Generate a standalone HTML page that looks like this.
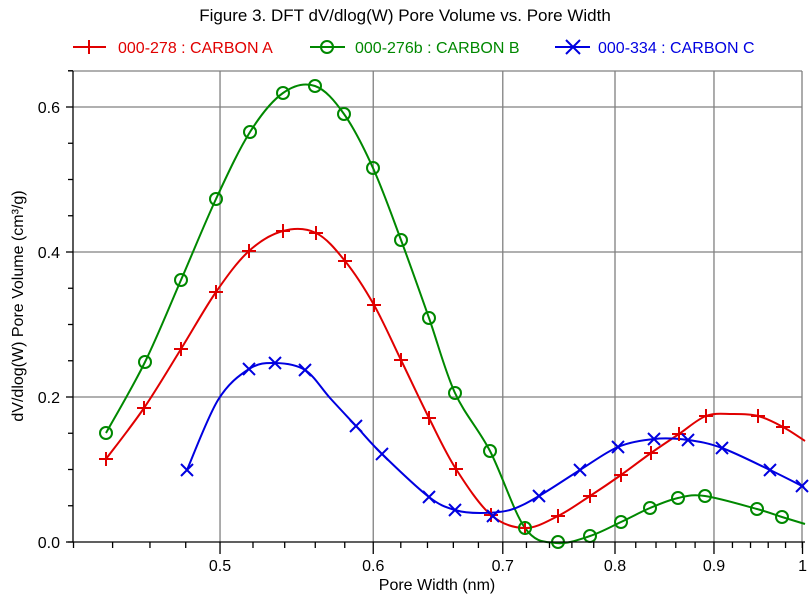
<!DOCTYPE html>
<html><head><style>
body{margin:0;background:#fff;}
svg{display:block;font-family:"Liberation Sans",Arial,sans-serif;}
</style></head><body>
<svg id="s" width="810" height="601" viewBox="0 0 810 601" xmlns="http://www.w3.org/2000/svg">
<text x="405" y="21" font-size="17" text-anchor="middle" fill="#000">Figure 3. DFT dV/dlog(W) Pore Volume vs. Pore Width</text>
<g font-size="16">
<line x1="73" y1="47" x2="106" y2="47" stroke="#e00000" stroke-width="2"/>
<path d="M89 40V54M82 47H96" stroke="#e00000" stroke-width="2"/>
<text x="118" y="53" fill="#e00000">000-278 : CARBON A</text>
<line x1="310" y1="47" x2="345" y2="47" stroke="#008800" stroke-width="2"/>
<circle cx="327" cy="47" r="6" fill="none" stroke="#008800" stroke-width="2"/>
<text x="355" y="53" fill="#008800">000-276b : CARBON B</text>
<line x1="555" y1="47" x2="590" y2="47" stroke="#0000e0" stroke-width="2"/>
<path d="M566 40L580 54M566 54L580 40" stroke="#0000e0" stroke-width="2"/>
<text x="598" y="53" fill="#0000e0">000-334 : CARBON C</text>
</g>
<g id="grid" stroke="#808080" stroke-width="1.3"></g>
<g id="curves"></g>
<text x="437" y="590" font-size="16" text-anchor="middle">Pore Width (nm)</text>
<text transform="translate(23,306) rotate(-90)" font-size="16" text-anchor="middle">dV/dlog(W) Pore Volume (cm³/g)</text>
</svg>
<script>
const NS="http://www.w3.org/2000/svg",s=document.getElementById('s');
function el(t,a,p){const e=document.createElementNS(NS,t);for(const k in a)e.setAttribute(k,a[k]);(p||s).appendChild(e);return e;}
const g=document.getElementById('grid');
const X=v=>615+1935*Math.log10(v/0.8), Y=v=>542-725*v;
el('line',{x1:68,y1:71,x2:802,y2:71},g);
[0.2,0.4,0.6].forEach(v=>el('line',{x1:73,y1:Y(v),x2:802,y2:Y(v)},g));
[0.5,0.6,0.7,0.8,0.9].forEach(v=>el('line',{x1:X(v),y1:71,x2:X(v),y2:542},g));
el('line',{x1:802,y1:71,x2:802,y2:548},g);
const ax=el('g',{stroke:'#000','stroke-width':1.3});
el('line',{x1:73,y1:71,x2:73,y2:542},ax);
el('line',{x1:68,y1:542,x2:805,y2:542},ax);
for(let v=0;v<=0.651;v+=0.05){const maj=Math.abs(v*10-Math.round(v*10))<1e-6&&Math.round(v*10)%2==0;el('line',{x1:maj?66:68,y1:Y(v),x2:73,y2:Y(v)},ax);}
for(let i=21;i<=50;i++){const v=i*0.02;const x=X(v);if(x<72||x>803)continue;const maj=i%5==0;el('line',{x1:x,y1:542,x2:x,y2:maj?554:548},ax);}
[0,0.2,0.4,0.6].forEach(v=>{const t=el('text',{x:60,y:Y(v)+6,'font-size':16,'text-anchor':'end'});t.textContent=v.toFixed(1);});
[0.5,0.6,0.7,0.8,0.9,1].forEach(v=>{const t=el('text',{x:X(v),y:571,'font-size':16,'text-anchor':'middle'});t.textContent=v==1?'1':v.toFixed(1);});
function cr(p){let d='M'+p[0][0]+' '+p[0][1];for(let i=0;i<p.length-1;i++){const a=p[i-1]||p[i],b=p[i],c=p[i+1],e=p[i+2]||c;d+=` C${b[0]+(c[0]-a[0])/6} ${b[1]+(c[1]-a[1])/6} ${c[0]-(e[0]-b[0])/6} ${c[1]-(e[1]-b[1])/6} ${c[0]} ${c[1]}`;}return d;}
const cv=document.getElementById('curves');
const R=[[106,459],[144,408],[181,349],[216,292],[249,251],[283,231],[316,233],[345,261],[374,305],[401,360],[429,418],[456,469],[491,515],[525,528],[558,516],[590,496],[621,475],[651,453],[679,434],[706,416],[732,414],[758,416],[783,427],[805,441]];
const Rm=[[106,459],[144,408],[181,349],[216,292],[249,251],[283,231],[316,233],[345,261],[374,305],[401,360],[429,418],[456,469],[491,515],[525,528],[558,516],[590,496],[621,475],[651,453],[679,434],[706,416],[758,416],[783,427]];
const G=[[106,433],[145,362],[181,280],[216,199],[250,132],[283,93],[315,86],[344,114],[373,168],[401,240],[429,318],[455,393],[490,451],[525,528],[556,543],[590,536],[621,522],[650,508],[678,498],[705,496],[757,509],[782,517],[805,524]];
const Gm=[[106,433],[145,362],[181,280],[216,199],[250,132],[283,93],[315,86],[344,114],[373,168],[401,240],[429,318],[455,393],[490,451],[525,528],[558,542],[590,536],[621,522],[650,508],[678,498],[705,496],[757,509],[782,517]];
const B=[[187,470],[218,400],[249,369],[275,363],[305,370],[330,398],[356,426],[382,454],[429,497],[455,510],[480,513],[510,510],[539,496],[580,470],[618,447],[654,439],[688,440],[722,448],[770,470],[804,487]];
const Bm=[[187,470],[249,369],[275,363],[305,370],[356,426],[382,454],[429,497],[455,510],[493,516],[539,496],[580,470],[618,447],[654,439],[688,440],[722,448],[770,470],[802,486]];
el('path',{d:cr(R),fill:'none',stroke:'#e00000','stroke-width':2},cv);
el('path',{d:cr(G),fill:'none',stroke:'#008800','stroke-width':2},cv);
el('path',{d:cr(B),fill:'none',stroke:'#0000e0','stroke-width':2},cv);
Rm.forEach(([x,y])=>el('path',{d:`M${x} ${y-7}V${y+7}M${x-7} ${y}H${x+7}`,stroke:'#e00000','stroke-width':2},cv));
Gm.forEach(([x,y])=>el('circle',{cx:x,cy:y,r:6,fill:'none',stroke:'#008800','stroke-width':2},cv));
Bm.forEach(([x,y])=>el('path',{d:`M${x-6} ${y-6}L${x+6} ${y+6}M${x-6} ${y+6}L${x+6} ${y-6}`,stroke:'#0000e0','stroke-width':2},cv));
</script>
</body></html>
